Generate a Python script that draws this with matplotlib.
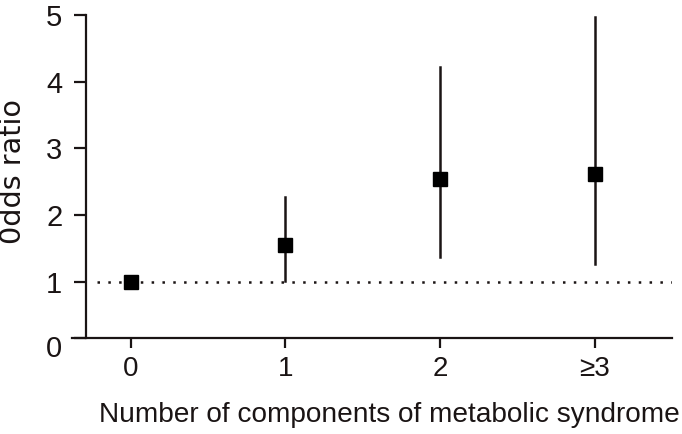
import matplotlib
matplotlib.use("Agg")
import matplotlib.pyplot as plt
import matplotlib.transforms as mtransforms

categories = ["0", "1", "2", "\u22653"]
odds_ratio = [1.00, 1.56, 2.55, 2.62]
ci_lower = [1.00, 1.02, 1.37, 1.27]
ci_upper = [1.00, 2.27, 4.22, 4.97]
ref_value = 1.0
ytick_vals = [1, 2, 3, 4, 5]

tick_font = "Liberation Sans"
ink = "#1a1414"

fig = plt.figure(figsize=(6.82, 4.34), dpi=100)
ax = fig.add_axes([72/682, (434-338)/434, 600/682, (338-15)/434])

x = list(range(len(categories)))
ax.axhline(ref_value, xmin=(97-72)/600, xmax=1.0, color=ink, lw=1.8,
           ls=(0, (1, 3.33)), zorder=1)
for i in range(len(x)):
    if ci_upper[i] > ci_lower[i]:
        ax.plot([x[i], x[i]], [ci_lower[i], ci_upper[i]], color=ink, lw=1.8, zorder=2)
ax.plot(x, odds_ratio, ls="none", marker="s", ms=9.8, color="black", zorder=3)

ax.set_xlim(-0.38, 3.5)
ax.set_ylim(0.16, 5)
ax.spines["top"].set_visible(False)
ax.spines["right"].set_visible(False)
ax.spines["left"].set_position(("data", -0.29))
for s in ("left", "bottom"):
    ax.spines[s].set_linewidth(1.6)
    ax.spines[s].set_color(ink)

ax.set_xticks(x)
ax.set_xticklabels(categories, fontsize=20, family=[tick_font, "DejaVu Sans"], color=ink)
ax.set_yticks([0.16] + ytick_vals)
ax.set_yticklabels([""] + [str(v) for v in ytick_vals], fontsize=21, family=tick_font, color=ink)
ax.tick_params(axis="y", length=9, width=1.6, pad=8, color=ink)
ax.tick_params(axis="x", length=7, width=1.6, pad=6, color=ink)

fig.canvas.draw()
bb = ax.get_yticklabels()[1].get_window_extent()
ax.text(bb.x1, 0.0, "0",
        transform=mtransforms.blended_transform_factory(mtransforms.IdentityTransform(), ax.transData),
        ha="right", va="center", fontsize=21, family=tick_font, color=ink, clip_on=False)

# axis titles, sized to match reference extents
ylab = fig.text(13/682, 1 - 172/434, "0dds ratio", rotation=90, ha="center", va="center",
                fontsize=15, family="DejaVu Sans", color=ink)
xlab = fig.text(389/682, 1 - 415/434, "Number of components of metabolic syndrome",
                ha="center", va="center", fontsize=16, family="Liberation Sans", color=ink)
fig.canvas.draw()
r = fig.canvas.get_renderer()
h = ylab.get_window_extent(r).height
ylab.set_fontsize(15 * 145 / h)
w = xlab.get_window_extent(r).width
xlab.set_fontsize(16 * 580 / w)

fig.savefig("out.png", dpi=100)
